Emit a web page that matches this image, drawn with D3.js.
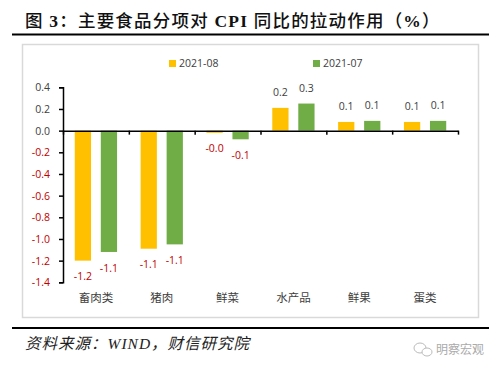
<!DOCTYPE html>
<html>
<head>
<meta charset="utf-8">
<script src="https://cdn.jsdelivr.net/npm/d3@7"></script>
<style>
    html, body { margin: 0; padding: 0; background: #fff; }
    svg { display: block; }
    .axis-y .domain, .axis-y line, .axis-x .domain, .axis-x line { stroke: #000; stroke-width: 1.5; }
    .num { font-family: "Open Sans", sans-serif; font-size: 10.5px; }
    .cat { font-family: "Noto Sans CJK SC", sans-serif; font-size: 11.5px; fill: #404040; }
</style>
</head>
<body>
<svg id="chart" width="500" height="371"></svg>
<script>
const categories = ['畜肉类', '猪肉', '鲜菜', '水产品', '鲜果', '蛋类'];
const seriesNames = ['2021-08', '2021-07'];
const aug = [-1.2, -1.09, -0.02, 0.21, 0.08, 0.08];
const jul = [-1.12, -1.05, -0.08, 0.25, 0.09, 0.09];
const yTicks = [0.4, 0.2, 0, -0.2, -0.4, -0.6, -0.8, -1.0, -1.2, -1.4];
const colours = ['#FFC000', '#70AD47'];
// title runs: the latin parts are set heavier than the CJK parts
const titleParts = ['图 ', '3', '：主要食品分项对 ', 'CPI', ' 同比的拉动作用（', '%', '）'];

const red = '#c00000';
const dark = '#404040';

const svg = d3.select('#chart');

// page furniture
svg.append('rect')
    .attr('x', 22.5).attr('y', 44.5).attr('width', 456).attr('height', 273)
    .attr('fill', '#fff').attr('stroke', '#d9d9d9').attr('stroke-width', 1.5);
[34.5, 328].forEach(y => {
    svg.append('line')
        .attr('x1', 12).attr('x2', 489).attr('y1', y).attr('y2', y)
        .attr('stroke', '#000').attr('stroke-width', 2);
});

svg.append('text')
    .attr('x', 25).attr('y', 27)
    .attr('font-family', '"Liberation Serif", "Noto Sans CJK SC", serif')
    .attr('font-size', 17.5)
    .attr('fill', '#111')
    .style('letter-spacing', '1.2px')
    .style('white-space', 'pre')
    .selectAll('tspan')
    .data(titleParts)
    .enter()
    .append('tspan')
    .attr('font-weight', (d, i) => i % 2 ? 700 : 500)
    .text(d => d);

svg.append('text')
    .attr('x', 25).attr('y', 349)
    .attr('font-family', '"Liberation Serif", "Noto Sans CJK SC", serif')
    .attr('font-style', 'italic')
    .attr('font-size', 15.5)
    .attr('fill', '#222')
    .style('letter-spacing', '1px')
    .text('资料来源：WIND，财信研究院');

// watermark
const mark = svg.append('g').attr('fill', '#fff').attr('stroke', '#bbb').attr('stroke-width', 1);
mark.append('ellipse').attr('cx', 420).attr('cy', 348).attr('rx', 6).attr('ry', 5);
mark.append('ellipse').attr('cx', 427).attr('cy', 352).attr('rx', 5).attr('ry', 4);
svg.append('text')
    .attr('x', 436).attr('y', 354)
    .attr('font-family', '"Noto Sans CJK SC", sans-serif')
    .attr('font-size', 12)
    .attr('fill', '#aaa')
    .text('明察宏观');

// scales
const yScale = d3.scaleLinear().domain([-1.4, 0.4]).range([282.3, 87.3]);
const xScale0 = d3.scaleBand().domain(categories).range([63, 458]);
const xScale1 = d3.scaleBand().domain(seriesNames)
    .range([0, xScale0.bandwidth()])
    .paddingInner(0.375).paddingOuter(0.453);
const xTicks = d3.scaleLinear().domain([0, categories.length]).range([63, 458]);

// bars
const series = [aug, jul];
const groups = svg.append('g').selectAll('g')
    .data(seriesNames)
    .enter()
    .append('g')
    .attr('fill', (d, i) => colours[i]);

groups.selectAll('rect')
    .data((d, i) => series[i].map((value, j) => ({ name: d, cat: categories[j], value })))
    .enter()
    .append('rect')
    .attr('x', d => xScale0(d.cat) + xScale1(d.name))
    .attr('width', xScale1.bandwidth())
    .attr('y', d => yScale(Math.max(0, d.value)))
    .attr('height', d => Math.abs(yScale(d.value) - yScale(0)));

groups.selectAll('text')
    .data((d, i) => series[i].map((value, j) => ({ name: d, cat: categories[j], value })))
    .enter()
    .append('text')
    .attr('class', 'num')
    .attr('text-anchor', 'middle')
    .attr('dy', '0.35em')
    .attr('x', d => xScale0(d.cat) + xScale1(d.name) + xScale1.bandwidth() / 2)
    .attr('y', d => yScale(d.value) + (d.value < 0 ? 16 : -15.5))
    .attr('fill', d => d.value < 0 ? red : dark)
    .text(d => d.value.toFixed(1));

// axes
const yAxis = svg.append('g')
    .attr('class', 'axis-y')
    .attr('transform', 'translate(63,0)')
    .call(d3.axisLeft(yScale).tickValues(yTicks).tickSize(4).tickSizeOuter(4).tickPadding(9).tickFormat(d3.format('.1f')));
yAxis.selectAll('text')
    .attr('class', 'num')
    .attr('font-family', null)
    .attr('fill', d => d < 0 ? red : dark)
    .text(d => d.toFixed(1));

svg.append('g')
    .attr('class', 'axis-x')
    .attr('transform', `translate(0,${yScale(0)})`)
    .call(d3.axisBottom(xTicks).tickValues(d3.range(categories.length + 1)).tickSize(4).tickSizeOuter(0).tickFormat(''));

// category labels sit under the plot, not on the zero line
svg.append('g').selectAll('text')
    .data(categories)
    .enter()
    .append('text')
    .attr('class', 'cat')
    .attr('text-anchor', 'middle')
    .attr('x', d => xScale0(d) + xScale0.bandwidth() / 2)
    .attr('y', 302)
    .text(d => d);

// legend
const legendX = [169, 313];
const legend = svg.append('g').selectAll('g')
    .data(seriesNames)
    .enter()
    .append('g')
    .attr('transform', (d, i) => `translate(${legendX[i]},60)`);
legend.append('rect')
    .attr('width', 7).attr('height', 7)
    .attr('fill', (d, i) => colours[i]);
legend.append('text')
    .attr('class', 'num')
    .attr('x', 10).attr('y', 3.5).attr('dy', '0.35em')
    .attr('fill', dark)
    .text(d => d);
</script>
</body>
</html>
